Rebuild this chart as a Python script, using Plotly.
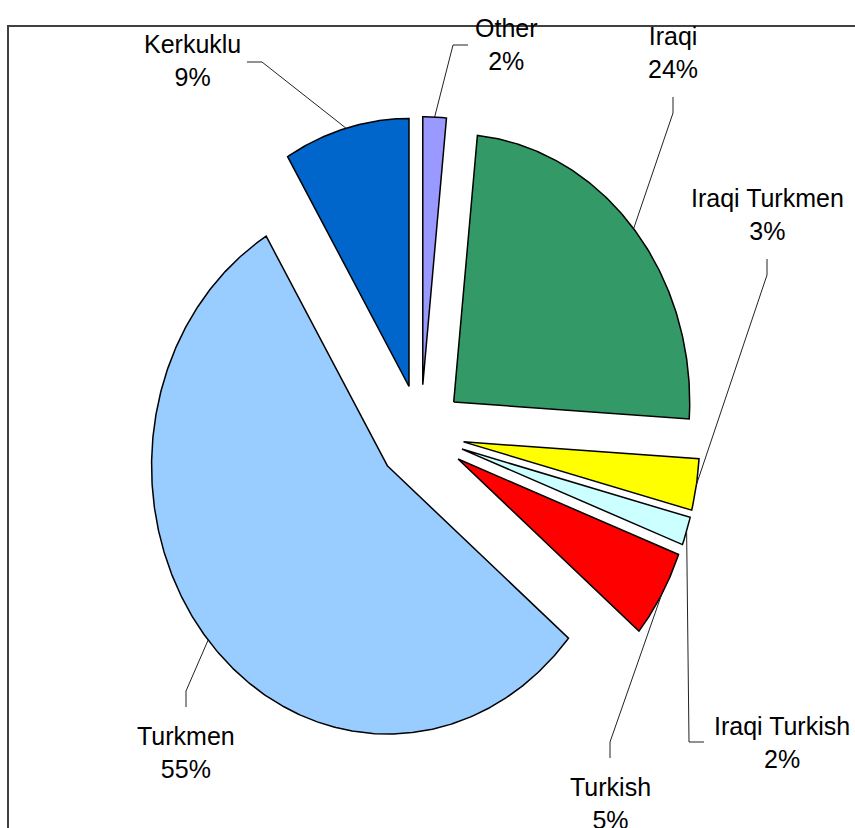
"""
Exploded pie of self-described identity, drawn as filled polygons so the
(slightly squashed) elliptical look of the original chart can be kept.
"""

import numpy as np
import plotly.graph_objects as go

# ---- data (clockwise from 12 o'clock) ----
LABELS = ["Other", "Iraqi", "Iraqi Turkmen", "Iraqi Turkish", "Turkish", "Turkmen", "Kerkuklu"]
SHARES = [1.6, 24.4, 3.1, 1.7, 5.3, 55.3, 8.6]
COLORS = ["#9999FF", "#339966", "#FFFF00", "#CCFFFF", "#FF0000", "#99CCFF", "#0066CC"]

# ---- layout constants (pixels) ----
W, H = 855, 828
CX, CY = 420.6, 434.0     # centre of the un-exploded pie
RX, RY = 236.0, 268.0     # pie radius along x / y
PULL = 0.184              # explosion, fraction of radius
FONT = "Liberation Sans, Arial, sans-serif"

# label block centre (px) and which side the leader line leaves from
LABEL_POS = {
    "Kerkuklu": (192, 60, "right"),
    "Other": (506, 44, "left"),
    "Iraqi": (673, 52, "below"),
    "Iraqi Turkmen": (767, 214, "below"),
    "Iraqi Turkish": (782, 742, "left"),
    "Turkish": (610, 803, "above"),
    "Turkmen": (186, 752, "above"),
}


def to_data(px, py):
    # pixel -> unit-radius data coordinates (y up)
    return (px - CX) / RX, (CY - py) / RY


def stub_points(name):
    px, py, side = LABEL_POS[name]
    if side == "right":
        end = (px + 55, py + 2)
        elbow = (end[0] + 15, end[1])
    elif side == "left":
        end = (px - 38 if name == "Other" else px - 78, py + 1 if name == "Other" else py)
        elbow = (end[0] - 15, end[1])
    elif side == "below":
        end = (px, py + 45)
        elbow = (end[0], end[1] + 16)
    else:  # above
        end = (px, py - 45)
        elbow = (end[0], end[1] - 16)
    return to_data(*end), to_data(*elbow)


fig = go.Figure()

total = sum(SHARES)
start = 0.0
for name, share, color in zip(LABELS, SHARES, COLORS):
    a0 = start / total * 2 * np.pi
    a1 = (start + share) / total * 2 * np.pi
    mid = (a0 + a1) / 2
    start += share

    ox, oy = PULL * np.sin(mid), PULL * np.cos(mid)
    ang = np.linspace(a0, a1, max(int(np.degrees(a1 - a0) * 2), 4))
    xs = np.concatenate([[ox], ox + np.sin(ang), [ox]])
    ys = np.concatenate([[oy], oy + np.cos(ang), [oy]])
    fig.add_trace(go.Scatter(
        x=xs, y=ys, mode="lines", fill="toself", fillcolor=color,
        line=dict(color="black", width=1.5), hoverinfo="skip", showlegend=False,
    ))

    # leader line: arc midpoint -> elbow -> label
    ax, ay = ox + np.sin(mid), oy + np.cos(mid)
    end, elbow = stub_points(name)
    fig.add_trace(go.Scatter(
        x=[ax, elbow[0], end[0]], y=[ay, elbow[1], end[1]], mode="lines",
        line=dict(color="#222222", width=1), hoverinfo="skip", showlegend=False,
    ))

    lx, ly = to_data(*LABEL_POS[name][:2])
    fig.add_annotation(
        x=lx, y=ly, text=f"{name}<br>{round(share / total * 100)}%",
        showarrow=False, xanchor="center", yanchor="middle", align="center",
        font=dict(family=FONT, size=25, color="black"),
    )

# chart-area border, cropped at right and bottom in the original
fig.add_shape(
    type="rect", xref="paper", yref="paper",
    x0=8 / W, x1=1.05, y0=-0.05, y1=1 - 26 / H,
    line=dict(color="#404040", width=2), fillcolor="rgba(0,0,0,0)", layer="below",
)

x_lo, y_hi = to_data(0, 0)
x_hi, y_lo = to_data(W, H)
fig.update_layout(
    width=W, height=H,
    margin=dict(l=0, r=0, t=0, b=0),
    paper_bgcolor="white", plot_bgcolor="white",
    xaxis=dict(range=[x_lo, x_hi], visible=False, fixedrange=True),
    yaxis=dict(range=[y_lo, y_hi], visible=False, fixedrange=True),
    showlegend=False,
)

# drop the browser's default body margin so the figure sits at the page corner
fig.write_html(
    "out.html",
    config={"displayModeBar": False},
    post_script="document.body.style.margin='0';",
)
